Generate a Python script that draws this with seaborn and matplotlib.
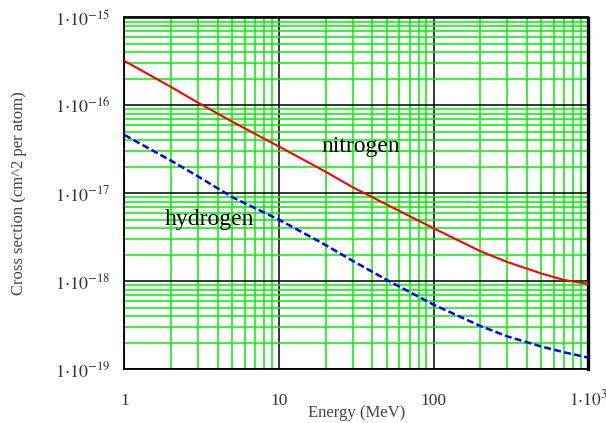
import numpy as np
import pandas as pd
import matplotlib
matplotlib.use("Agg")
import matplotlib.pyplot as plt
from matplotlib.ticker import FixedLocator, LogLocator, NullFormatter
import seaborn as sns

# Stopping cross sections vs. proton energy
energy = [1, 2, 3, 5, 10, 20, 30, 50, 100, 200, 300, 500, 700, 1000]
nitrogen = [3.2e-16, 1.62e-16, 1.07e-16, 6.5e-17, 3.4e-17, 1.76e-17, 1.17e-17,
            7.4e-18, 4.0e-18, 2.2e-18, 1.65e-18, 1.22e-18, 1.03e-18, 9.3e-19]
hydrogen = [4.6e-17, 2.35e-17, 1.55e-17, 9.0e-18, 5.0e-18, 2.58e-18, 1.7e-18,
            1.03e-18, 5.4e-19, 3.1e-19, 2.35e-19, 1.8e-19, 1.55e-19, 1.35e-19]

x_ticks = [1, 10, 100, 1000]
x_tick_labels = ["1", "10", "100", r"$1{\cdot}10^{3}$"]
y_ticks = [1e-19, 1e-18, 1e-17, 1e-16, 1e-15]
y_tick_labels = [r"$1{\cdot}10^{-19}$", r"$1{\cdot}10^{-18}$", r"$1{\cdot}10^{-17}$",
                 r"$1{\cdot}10^{-16}$", r"$1{\cdot}10^{-15}$"]

sns.set_style("white")
plt.rcParams["font.family"] = ["Liberation Serif", "DejaVu Serif"]
plt.rcParams["mathtext.fontset"] = "stix"

df = pd.DataFrame({"energy": energy, "nitrogen": nitrogen, "hydrogen": hydrogen})

fig = plt.figure(figsize=(6.06, 4.23), dpi=100)
ax = fig.add_axes([124.5 / 606, 1 - 369 / 423, 463.5 / 606, 351.5 / 423])

ax.set_xscale("log")
ax.set_yscale("log")
ax.set_xlim(1, 1000)
ax.set_ylim(1e-19, 1e-15)

# grid: green for the 2..9 subdivisions, black at each decade
ax.xaxis.set_major_locator(FixedLocator(x_ticks))
ax.yaxis.set_major_locator(FixedLocator(y_ticks))
ax.xaxis.set_minor_locator(LogLocator(base=10, subs=np.arange(2, 10), numticks=20))
ax.yaxis.set_minor_locator(LogLocator(base=10, subs=np.arange(2, 10), numticks=20))
ax.xaxis.set_minor_formatter(NullFormatter())
ax.yaxis.set_minor_formatter(NullFormatter())
ax.grid(which="minor", color="#00f000", linewidth=1.1, zorder=0)
ax.grid(which="major", color="black", linewidth=1.1, zorder=1)
ax.set_axisbelow(True)

sns.lineplot(data=df, x="energy", y="nitrogen", ax=ax, color="#ff0000",
             linewidth=1.5, zorder=3)
sns.lineplot(data=df, x="energy", y="hydrogen", ax=ax, color="#0000ff",
             linewidth=1.8, zorder=3, dashes=False, linestyle=(0, (2.8, 1.3)))

ax.set_xticklabels(x_tick_labels)
ax.set_yticklabels(y_tick_labels)
ax.tick_params(which="both", length=0)
ax.tick_params(axis="y", pad=10.5, labelsize=13, labelcolor="#333333")
ax.tick_params(axis="x", pad=26, labelsize=12.5, labelcolor="#333333")
for lbl in ax.get_xticklabels():
    lbl.set_va("baseline")

for side in ["left", "bottom", "top"]:
    ax.spines[side].set_color("black")
    ax.spines[side].set_linewidth(1.3)
ax.spines["right"].set_color("black")
ax.spines["right"].set_linewidth(2.4)

ax.set_xlabel("Energy (MeV)", fontsize=12, color="#444444")
ax.set_ylabel("Cross section (cm^2 per atom)", fontsize=12, color="#444444")
ax.xaxis.label.set_va("center")
ax.yaxis.label.set_va("center")
ax.xaxis.set_label_coords(0.5, (369 - 413) / 351.5)
ax.yaxis.set_label_coords((19 - 124.5) / 463.5, 0.5)

ax.text(18.8, 2.98e-17, "nitrogen", fontsize=17, color="black",
        va="baseline", ha="left", zorder=4)
ax.text(1.83, 4.38e-18, "hydrogen", fontsize=17, color="black",
        va="baseline", ha="left", zorder=4)

fig.savefig("out.png", dpi=100)
